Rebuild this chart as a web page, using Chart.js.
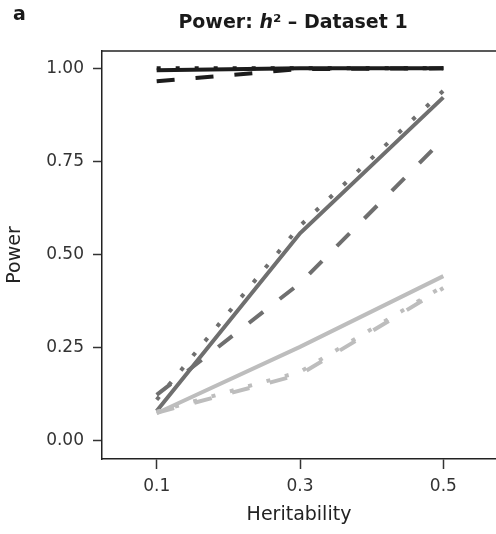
<!DOCTYPE html>
<html>
<head>
<meta charset="utf-8">
<title>Power: h2 - Dataset 1</title>
<script src="https://cdn.jsdelivr.net/npm/chart.js@4.4.1/dist/chart.umd.min.js"></script>
<style>
    html, body { margin: 0; padding: 0; background: #fff; }
    .wrap { position: relative; width: 496px; height: 534px; }
    .panel-tag {
        position: absolute; left: 13px; top: 2px;
        font: bold 19px "DejaVu Sans", sans-serif; color: #1a1a1a;
    }
    .plot-title {
        position: absolute; left: 103px; top: 10px; width: 380px;
        text-align: center; line-height: 22px;
        font: bold 19px "DejaVu Sans", sans-serif; color: #1a1a1a;
    }
    canvas { position: absolute; left: 0; top: 0; }
</style>
</head>
<body>
<div class="wrap">
    <canvas id="powerChart" width="496" height="534"></canvas>
    <div class="panel-tag">a</div>
    <div class="plot-title">Power: <i>h</i>² – Dataset 1</div>
</div>
<script>
// heritability levels on the x axis
const heritability = [0.1, 0.3, 0.5];
const xTicks = [0.1, 0.3, 0.5];
const yTicks = [0, 0.25, 0.5, 0.75, 1.0];

// power values
const blackSolid  = [0.995, 1.0, 1.0];
const blackDashed = [0.965, 0.998, 1.0];
const blackDotted = [1.0, 1.0, 1.0];
const darkSolid   = [0.08, 0.557, 0.922];
const darkDashed  = [0.123, 0.423, 0.81];
const darkDotted  = [0.11, 0.577, 0.94];
const lightSolid  = [0.074, 0.252, 0.442];
const lightDashed = [0.075, 0.178, 0.41];
const lightDotted = [0.078, 0.185, 0.415];

const BLACK = '#1c1c1c';
const DARK = '#6f6f6f';
const LIGHT = '#bdbdbd';
const DASH = [18, 21];
const DOT = [4, 15];

function toPoints(values) {
    return heritability.map((h, i) => ({ x: h, y: values[i] }));
}

function series(values, color, dash) {
    return {
        data: toPoints(values),
        borderColor: color,
        backgroundColor: color,
        borderWidth: 4,
        borderDash: dash,
        borderCapStyle: 'butt',
        pointRadius: 0,
        tension: 0,
        fill: false
    };
}

// top edge of the panel frame
const frameTop = {
    id: 'frameTop',
    beforeDatasetsDraw(chart) {
        const { ctx, chartArea } = chart;
        ctx.save();
        ctx.strokeStyle = '#222';
        ctx.lineWidth = 1.5;
        ctx.beginPath();
        ctx.moveTo(chartArea.left, chartArea.top);
        ctx.lineTo(chartArea.right, chartArea.top);
        ctx.stroke();
        ctx.restore();
    }
};

const tickFont = { family: 'DejaVu Sans', size: 17 };
const titleFont = { family: 'DejaVu Sans', size: 19 };

new Chart(document.getElementById('powerChart'), {
    type: 'line',
    data: {
        datasets: [
            series(lightSolid, LIGHT, []),
            series(lightDashed, LIGHT, DASH),
            series(lightDotted, LIGHT, DOT),
            series(darkSolid, DARK, []),
            series(darkDashed, DARK, DASH),
            series(darkDotted, DARK, DOT),
            series(blackSolid, BLACK, []),
            series(blackDashed, BLACK, DASH),
            series(blackDotted, BLACK, DOT)
        ]
    },
    plugins: [frameTop],
    options: {
        animation: false,
        responsive: false,
        layout: { padding: { top: 51, right: 0, left: 0, bottom: 0 } },
        plugins: {
            legend: { display: false },
            tooltip: { enabled: false }
        },
        scales: {
            x: {
                type: 'linear',
                min: 0.0237,
                max: 0.5735,
                afterBuildTicks: scale => { scale.ticks = xTicks.map(v => ({ value: v })); },
                afterFit: scale => { scale.height = 75; },
                grid: { drawOnChartArea: false, drawTicks: true, tickLength: 10, tickWidth: 1.5, tickColor: '#333' },
                border: { display: true, color: '#222', width: 1.5 },
                ticks: {
                    font: tickFont, color: '#333', padding: 7,
                    callback: v => v.toFixed(1)
                },
                title: {
                    display: true, text: 'Heritability', font: titleFont, color: '#222',
                    padding: { top: 0, bottom: 8 }
                }
            },
            y: {
                min: -0.049,
                max: 1.0465,
                afterBuildTicks: scale => { scale.ticks = yTicks.map(v => ({ value: v })); },
                afterFit: scale => { scale.width = 102; },
                grid: { drawOnChartArea: false, drawTicks: true, tickLength: 9, tickWidth: 1.5, tickColor: '#333' },
                border: { display: true, color: '#222', width: 1.5 },
                ticks: {
                    font: tickFont, color: '#333', padding: 9,
                    callback: v => v.toFixed(2)
                },
                title: {
                    display: true, text: 'Power', font: titleFont, color: '#222',
                    padding: { top: 4, bottom: 0 }
                }
            }
        }
    }
});
</script>
</body>
</html>
